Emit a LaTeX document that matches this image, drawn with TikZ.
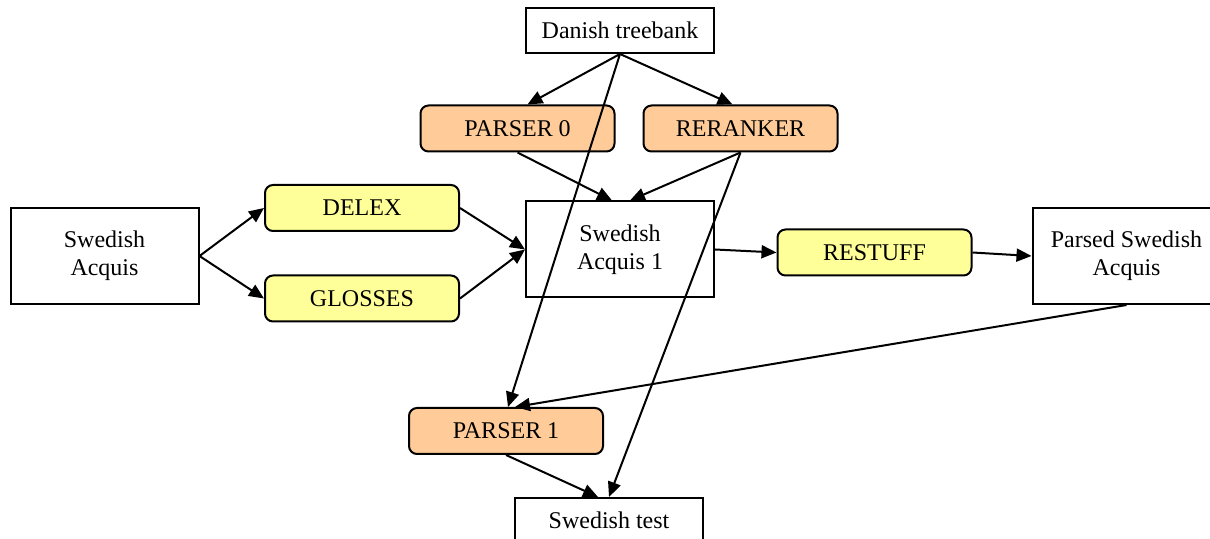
\documentclass[tikz,border=0pt]{standalone}
\usepackage{fontspec}
\setmainfont{Liberation Serif}
\usetikzlibrary{arrows.meta}
\definecolor{orng}{HTML}{FFCC99}
\definecolor{yel}{HTML}{FFFF99}
\tikzset{
  datum/.style={draw, line width=1pt, inner sep=0pt, align=center, minimum width=94pt, minimum height=22.5pt, font=\fontsize{12}{14}\selectfont},
  tall/.style={datum, minimum height=48pt},
  proc/.style={datum, rounded corners=4pt, minimum width=97pt, minimum height=23pt},
  flow/.style={-{Triangle[length=7.5pt,width=6.5pt]}, line width=1pt}
}
\begin{document}
\begin{tikzpicture}[x=0.5pt,y=-0.5pt]
\useasboundingbox (0,0) rectangle (1210,539);
\node[datum] (dan) at (620,30.5) {Danish treebank};
\node[proc, fill=orng] (p0) at (517.5,128.5) {PARSER 0};
\node[proc, fill=orng] (rr) at (740.5,128.5) {RERANKER};
\node[tall] (sa) at (104.5,256) {Swedish\\Acquis};
\node[proc, fill=yel] (delex) at (362,208) {DELEX};
\node[proc, fill=yel] (gloss) at (362,298.5) {GLOSSES};
\node[tall] (sa1) at (620,249.5) {Swedish\\Acquis 1};
\node[proc, fill=yel] (rest) at (874.5,252.5) {RESTUFF};
\node[tall] (psa) at (1126.5,256) {Parsed Swedish\\Acquis};
\node[proc, fill=orng] (p1) at (506,431) {PARSER 1};
\node[datum] (test) at (609,520.5) {Swedish test};
\draw[flow] (dan.south) -- ([xshift=5pt]p0.north);
\draw[flow] (dan.south) -- ([xshift=-4pt]rr.north);
\draw[flow] (dan.south) -- ([xshift=1pt]p1.north);
\draw[flow] (p0.south) -- ([xshift=-4pt]sa1.north);
\draw[flow] (rr.south) -- ([xshift=5pt]sa1.north);
\draw[flow] (rr.south) -- (test.north);
\draw[flow] (sa.east) -- (delex.west);
\draw[flow] (sa.east) -- (gloss.west);
\draw[flow] (delex.east) -- (sa1.west);
\draw[flow] (gloss.east) -- (sa1.west);
\draw[flow] (sa1.east) -- (rest.west);
\draw[flow] (rest.east) -- (psa.west);
\draw[flow] (psa.south) -- ([xshift=4.5pt]p1.north);
\draw[flow] (p1.south) -- ([xshift=-5.5pt]test.north);
\end{tikzpicture}
\end{document}
